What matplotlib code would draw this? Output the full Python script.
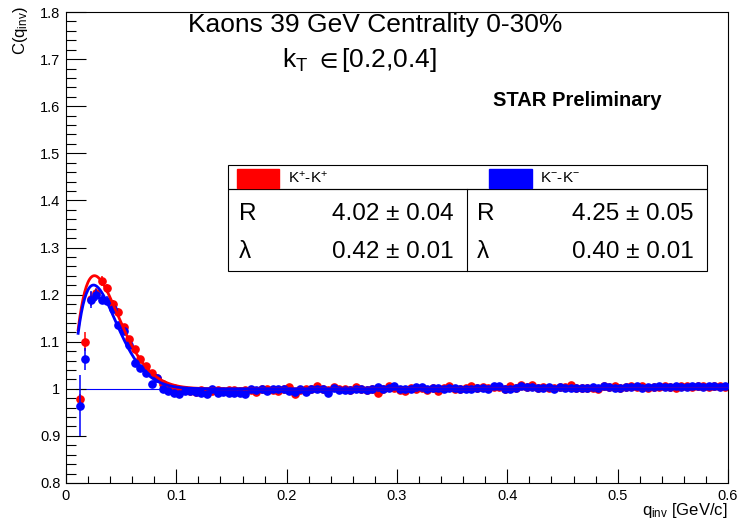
import numpy as np
import matplotlib
matplotlib.use('Agg')
import matplotlib.pyplot as plt
from matplotlib.patches import Rectangle

plt.rcParams['font.family'] = ['Liberation Sans', 'DejaVu Sans']
plt.rcParams['mathtext.fontset'] = 'custom'
plt.rcParams['mathtext.rm'] = 'Liberation Sans'
plt.rcParams['mathtext.it'] = 'Liberation Sans:italic'
plt.rcParams['mathtext.fallback'] = 'stixsans'

# bin centres of q_inv [GeV/c], 5 MeV bins
q = np.arange(0.0125, 0.6, 0.005)

# K+K+ correlation
red = [0.978, 1.100, 1.190, 1.203, 1.229, 1.213, 1.181, 1.164, 1.132, 1.105,
       1.084, 1.063, 1.048, 1.034, 1.022, 1.010, 1.004, 1.001, 0.998, 0.997,
       0.995, 0.994, 0.998, 0.993, 0.996, 0.997, 0.996, 0.997, 0.998, 0.996,
       0.997, 0.998, 0.993, 0.999, 1.000, 0.998, 0.996, 0.999, 1.004, 0.990,
       0.998, 0.999, 1.000, 1.006, 0.999, 0.998, 1.004, 0.999, 1.000, 0.998,
       1.003, 0.999, 0.998, 0.999, 0.992, 1.000, 1.005, 1.002, 0.998, 0.996,
       1.001, 1.000, 1.001, 0.998, 1.002, 0.995, 1.001, 1.006, 1.000, 0.999,
       1.001, 1.005, 1.001, 1.004, 1.001, 1.003, 1.004, 1.000, 1.006, 1.001,
       1.009, 1.004, 1.008, 1.001, 1.003, 1.002, 1.001, 1.004, 1.003, 1.008,
       1.002, 1.001, 1.002, 1.002, 0.999, 1.006, 1.003, 1.005, 1.002, 1.003,
       1.005, 1.003, 1.006, 1.002, 1.004, 1.003, 1.007, 1.004, 1.002, 1.005,
       1.006, 1.003, 1.005, 1.007, 1.004, 1.005, 1.006, 1.004]

# K-K- correlation
blue = [0.964, 1.063, 1.189, 1.199, 1.189, 1.187, 1.169, 1.135, 1.123, 1.093,
        1.055, 1.045, 1.034, 1.010, 1.022, 0.999, 0.995, 0.992, 0.990, 0.995,
        0.995, 0.993, 0.991, 0.988, 1.000, 0.991, 0.993, 0.992, 0.992, 0.992,
        0.990, 0.999, 0.997, 0.999, 0.995, 0.999, 1.000, 0.999, 0.995, 0.993,
        1.000, 0.993, 0.999, 1.000, 0.999, 0.992, 1.002, 0.997, 0.997, 0.997,
        0.999, 0.999, 0.997, 1.000, 1.004, 0.999, 1.002, 1.005, 0.999, 0.999,
        1.000, 1.004, 1.004, 0.999, 1.002, 1.002, 1.000, 1.002, 1.001, 1.000,
        1.000, 1.000, 1.002, 1.002, 1.000, 1.005, 1.006, 1.000, 0.999, 1.002,
        1.007, 1.004, 1.004, 1.002, 1.002, 1.003, 0.999, 1.003, 1.002, 1.002,
        1.002, 1.001, 1.001, 1.003, 1.001, 1.006, 1.004, 1.001, 1.002, 1.004,
        1.003, 1.005, 1.002, 1.004, 1.003, 1.006, 1.004, 1.003, 1.005, 1.004,
        1.003, 1.006, 1.005, 1.004, 1.005, 1.006, 1.004, 1.007]

# statistical errors of the lowest bins, the rest are hidden by the markers
red_err_low = [0.012, 0.020, 0.015, 0.012, 0.010, 0.009, 0.008, 0.007, 0.006, 0.005]
blue_err_low = [0.065, 0.023, 0.018, 0.013, 0.010, 0.009, 0.008, 0.007, 0.006, 0.005]
err_flat = 0.003

# fit results
R_pp, R_pp_err, lam_pp, lam_pp_err = 4.02, 0.04, 0.42, 0.01
R_mm, R_mm_err, lam_mm, lam_mm_err = 4.25, 0.05, 0.40, 0.01
hbarc = 0.1973


def coulomb(x):
    # rough finite size Coulomb suppression
    return 1 - 0.785 * np.exp(-x / 0.0129)


def fitfunc(x, R, lam):
    g = np.exp(-(R * x / hbarc) ** 2)
    return (1 - lam) + lam * coulomb(x) * (1 + g)


W, H = 737, 524
fig = plt.figure(figsize=(W / 100, H / 100), dpi=100)
ax = fig.add_axes([66 / W, 1 - 483 / H, (728 - 66) / W, (483 - 12) / H])


def fx(px):
    return px / W


def fy(py):
    return 1 - py / H


red_err = red_err_low + [err_flat] * (len(q) - len(red_err_low))
blue_err = blue_err_low + [err_flat] * (len(q) - len(blue_err_low))

ax.plot([0.0095, 0.6], [1, 1], color='blue', lw=0.8, zorder=1)
ax.errorbar(q, red, yerr=red_err, fmt='o', color='red', ms=5.2, mec='red',
            elinewidth=1.1, capsize=0, zorder=2)
ax.errorbar(q, blue, yerr=blue_err, fmt='o', color='blue', ms=5.2, mec='blue',
            elinewidth=1.1, capsize=0, zorder=3)

qf = np.linspace(0.011, 0.6, 800)
ax.plot(qf, fitfunc(qf, R_pp, lam_pp), color='red', lw=2.0, zorder=4)
ax.plot(qf, fitfunc(qf, R_mm, lam_mm), color='blue', lw=2.0, zorder=5)

ax.set_xlim(0, 0.6)
ax.set_ylim(0.8, 1.8)
ax.set_xticks(np.arange(0, 0.61, 0.1))
ax.set_xticklabels(['0', '0.1', '0.2', '0.3', '0.4', '0.5', '0.6'])
ax.set_xticks(np.arange(0, 0.601, 0.02), minor=True)
ax.set_yticks(np.arange(0.8, 1.81, 0.1))
ax.set_yticklabels(['%.1f' % v if abs(v - 1) > 1e-6 else '1'
                    for v in np.arange(0.8, 1.81, 0.1)])
ax.set_yticks(np.arange(0.8, 1.801, 0.02), minor=True)
ax.tick_params(axis='both', which='both', direction='in', top=False, right=False,
               labelsize=10.5, width=0.8)
ax.tick_params(axis='x', which='major', length=10, pad=4)
ax.tick_params(axis='x', which='minor', length=5)
ax.tick_params(axis='y', which='major', length=14.4, pad=4)
ax.tick_params(axis='y', which='minor', length=7.2)
for s in ax.spines.values():
    s.set_linewidth(0.8)

fig.text(fx(20), fy(6), r'C(q$_{\rm inv}$)', rotation=90, ha='center', va='top',
         fontsize=12)
fig.text(fx(728), fy(511), r'q$_{\rm inv}$ [GeV/c]', ha='right', va='center',
         fontsize=12)

fig.text(fx(375), fy(25), 'Kaons 39 GeV Centrality 0-30%', ha='center',
         va='center', fontsize=19)
fig.text(fx(360), fy(60), r'k$_{\rm T}$ $\in$[0.2,0.4]', ha='center', va='center',
         fontsize=19)
fig.text(fx(662), fy(100), 'STAR Preliminary', ha='right', va='center',
         fontsize=14.5, fontweight='bold')

# parameter table
box_kw = dict(transform=fig.transFigure, fill=False, ec='black', lw=0.8)
fig.patches.append(Rectangle((fx(228), fy(189)), fx(707) - fx(228), fy(165) - fy(189), **box_kw))
fig.patches.append(Rectangle((fx(228), fy(271)), fx(707) - fx(228), fy(189) - fy(271), **box_kw))
fig.lines.append(plt.Line2D([fx(467), fx(467)], [fy(189), fy(271)],
                            transform=fig.transFigure, color='black', lw=0.8))
fig.patches.append(Rectangle((fx(237), fy(188)), fx(279) - fx(237), fy(169) - fy(188),
                             transform=fig.transFigure, color='red'))
fig.patches.append(Rectangle((fx(489), fy(188)), fx(532) - fx(489), fy(169) - fy(188),
                             transform=fig.transFigure, color='blue'))
fig.text(fx(288), fy(178), r'K$^{+}$-K$^{+}$', ha='left', va='center', fontsize=11)
fig.text(fx(540), fy(178), r'K$^{-}$-K$^{-}$', ha='left', va='center', fontsize=11)

rows = [('R', R_pp, R_pp_err, R_mm, R_mm_err, 214),
        ('λ', lam_pp, lam_pp_err, lam_mm, lam_mm_err, 252)]
for name, v1, e1, v2, e2, py in rows:
    fig.text(fx(239), fy(py), name, ha='left', va='center', fontsize=17.5)
    fig.text(fx(454), fy(py), '%.2f ± %.2f' % (v1, e1), ha='right', va='center',
             fontsize=17.5)
    fig.text(fx(477), fy(py), name, ha='left', va='center', fontsize=17.5)
    fig.text(fx(694), fy(py), '%.2f ± %.2f' % (v2, e2), ha='right', va='center',
             fontsize=17.5)

fig.savefig('out.png', dpi=100)
